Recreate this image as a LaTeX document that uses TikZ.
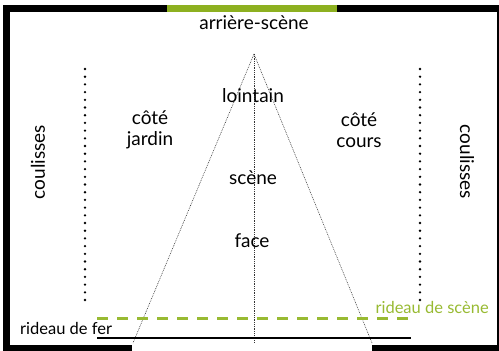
\documentclass[tikz,border=0pt]{standalone}
\usepackage{fontspec}
\setmainfont{Lato}
\definecolor{grn}{RGB}{141,176,32}
\definecolor{grnl}{RGB}{152,186,50}
\begin{document}
\begin{tikzpicture}[x=1pt,y=-1pt,
  lbl/.style={font=\fontsize{19}{21}\selectfont, inner sep=0pt, align=center},
  slbl/.style={font=\fontsize{16.5}{19}\selectfont, inner sep=0pt},
  wall/.style={line width=6.5pt, line cap=butt},
  wing/.style={line width=2.6pt, dash pattern=on 0pt off 7.7pt, line cap=round},
  sight/.style={line width=0.6pt, dash pattern=on 0.8pt off 1pt, black!80},
  curtain/.style={grnl, line width=3pt, dash pattern=on 11pt off 9pt},
  ironline/.style={black, line width=2pt}]
\useasboundingbox (0,0) rectangle (499,351);
% walls
\draw[wall] (132,348) -- (6.25,348) -- (6.25,8.5) -- (499,8.5);
\draw[line width=2.5pt] (497.75,5) -- (497.75,351);
\draw[wall] (372,348) -- (499,348);
\draw[grn, line width=7pt] (167,8.5) -- (337,8.5);
% coordinates
\coordinate (apex) at (254,54);
\coordinate (bl) at (133,343);
\coordinate (bc) at (254,343);
\coordinate (br) at (372,343);
\coordinate (jt) at (85,69);
\coordinate (jb) at (85,302);
\coordinate (ct) at (420,69);
\coordinate (cb) at (420,302);
\coordinate (rsl) at (97,318);
\coordinate (rsr) at (411,318);
\coordinate (rfl) at (97,338);
\coordinate (rfr) at (411,338);
% sight lines
\draw[sight] (apex) -- (bl);
\draw[sight] (apex) -- (bc);
\draw[sight] (apex) -- (br);
% wings
\draw[wing] (jt) -- (jb);
\draw[wing] (ct) -- (cb);
% curtains
\draw[curtain] (rsl) -- (rsr);
\draw[ironline] (rfl) -- (rfr);
% labels
\node[lbl] (arr) at (254,23) {arrière-scène};
\node[lbl] (loin) at (253,96) {lointain};
\node[lbl] (jard) at (150,130) {côté\\jardin};
\node[lbl] (cour) at (359,130) {côté\\cours};
\node[lbl] (scen) at (253,178) {scène};
\node[lbl] (face) at (252,241) {face};
\node[lbl, rotate=90] (coulg) at (38,162) {coulisses};
\node[lbl, rotate=-90] (could) at (467,162) {coulisses};
\node[slbl, text=grnl, anchor=east] (rscene) at (489,307) {rideau de scène};
\node[slbl, anchor=west] (rfer) at (20,328) {rideau de fer};
\end{tikzpicture}
\end{document}
